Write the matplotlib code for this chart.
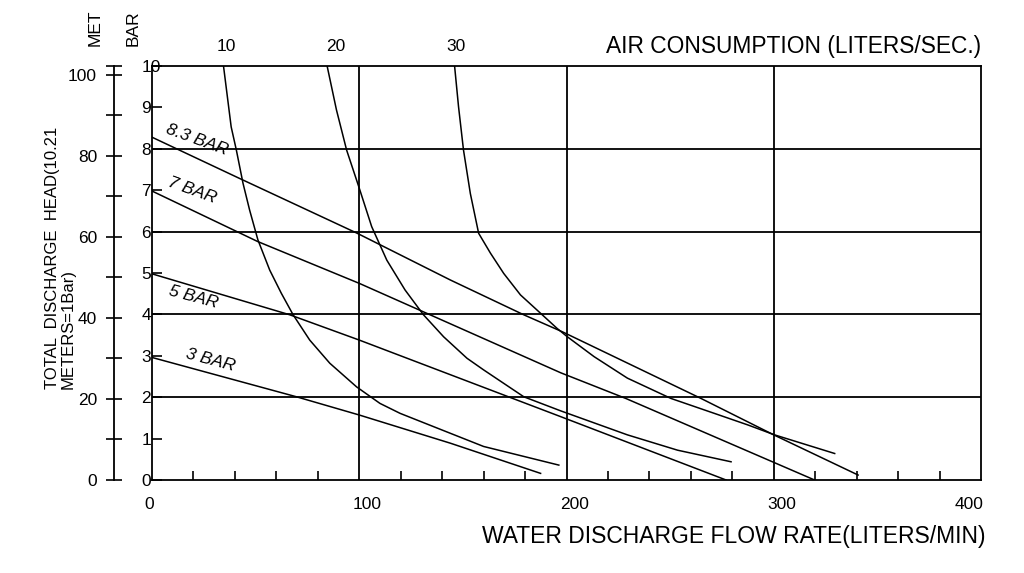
import matplotlib
matplotlib.use("Agg")
import matplotlib.pyplot as plt
import matplotlib.transforms as mtransforms

plt.rcParams['font.family'] = ['Liberation Sans', 'DejaVu Sans']

# pressure curves (flow L/min, head bar)
bar_labels = ["8.3 BAR", "7 BAR", "5 BAR", "3 BAR"]
q_83 = [0, 42, 99, 144, 179.4, 198, 264.9, 300, 340.7]
p_83 = [8.28, 7.29, 5.96, 4.83, 3.99, 3.58, 1.97, 1.09, 0.12]
q_7 = [0, 51, 100, 197.2, 228.6, 319.7]
p_7 = [6.98, 5.76, 4.75, 2.59, 1.97, 0.0]
q_5 = [0, 66.5, 100, 197.2, 277]
p_5 = [4.98, 3.99, 3.38, 1.53, 0.0]
q_3 = [0, 69.7, 100, 143.9, 187.5]
p_3 = [2.96, 2.01, 1.57, 0.89, 0.16]

# air consumption curves (liters/sec)
air_labels = ["10", "20", "30"]
q_a10 = [34.5, 38.2, 40.7, 43.9, 47.1, 51.1, 56.8, 62.4, 68.1, 76.1, 85.8, 98.7,
         110, 119.7, 135.8, 160, 196.3]
p_a10 = [10, 8.53, 7.97, 7.17, 6.52, 5.8, 5.07, 4.51, 3.99, 3.38, 2.82, 2.25,
         1.85, 1.61, 1.29, 0.81, 0.36]
q_a20 = [84.5, 89, 93.9, 100, 106, 113.3, 122.1, 131, 140.7, 152, 160, 179.4,
         197.2, 229.4, 253.6, 279.4]
p_a20 = [10, 8.94, 7.97, 7.05, 6.12, 5.31, 4.59, 3.99, 3.46, 2.94, 2.66, 2.01,
         1.67, 1.09, 0.72, 0.44]
q_a30 = [146, 147.9, 150.3, 153.6, 157.6, 163.3, 169.7, 177.8, 188.3, 195.5, 200.4,
         213.3, 229.4, 250.4, 271.3, 287.5, 300.4, 329.4]
p_a30 = [10, 9.02, 7.97, 6.92, 5.96, 5.48, 4.99, 4.47, 3.99, 3.66, 3.46,
         2.98, 2.46, 1.97, 1.61, 1.33, 1.09, 0.64]

x_ticks = [0, 100, 200, 300, 400]
bar_ticks = list(range(0, 11))
met_ticks = [0, 20, 40, 60, 80, 100]
m_per_bar = 10.21

W, H = 1024, 573
fig = plt.figure(figsize=(W / 100, H / 100), dpi=100)
left, right, top, bottom = 152, 981, 66, 480
ax = fig.add_axes([left / W, 1 - bottom / H, (right - left) / W, (bottom - top) / H])

ax.set_xlim(0, 400)
ax.set_ylim(0, 10)
for s in ax.spines.values():
    s.set_linewidth(1.3)

# grid
for x in [100, 200, 300]:
    ax.axvline(x, color='black', lw=1.3, zorder=1)
for y in [2, 4, 6, 8]:
    ax.axhline(y, color='black', lw=1.3, zorder=1)

lw = 1.1
for q, p in [(q_83, p_83), (q_7, p_7), (q_5, p_5), (q_3, p_3)]:
    ax.plot(q, p, color='black', lw=lw, zorder=2)
for q, p in [(q_a10, p_a10), (q_a20, p_a20), (q_a30, p_a30)]:
    ax.plot(q, p, color='black', lw=lw, zorder=2, solid_joinstyle='round')

fs = 12.5
# curve labels
lab_pos = [(21.5, 8.21, -20), (19.4, 7.0, -20), (19.8, 4.42, -15), (28, 2.9, -15)]
for txt, (qx, py, rot) in zip(bar_labels, lab_pos):
    ax.text(qx, py, txt, rotation=rot, ha='center', va='center', fontsize=fs,
            style='italic', rotation_mode='anchor')
for txt, q, dq in zip(air_labels, [q_a10, q_a20, q_a30], [1.5, 4, 0.5]):
    ax.text(q[0] + dq, 10.3, txt, ha='center', va='bottom', fontsize=fs, clip_on=False)

# x axis
ax.set_xticks(x_ticks)
ax.set_xticklabels([str(v) for v in x_ticks], fontsize=fs)
ax.tick_params(axis='x', which='major', length=0, pad=12)
ax.set_xticks([v for v in range(20, 400, 20) if v % 100], minor=True)
ax.tick_params(axis='x', which='minor', direction='in', length=6.5, width=1.2)
shifts = [-3, 8, 8, 8, -12]
for lbl, dx in zip(ax.get_xticklabels(), shifts):
    lbl.set_transform(lbl.get_transform() + mtransforms.ScaledTranslation(dx / 100, 0, fig.dpi_scale_trans))

# bar axis
ax.set_yticks(bar_ticks)
ax.set_yticklabels([str(v) for v in bar_ticks], fontsize=fs, ha='left')
ax.tick_params(axis='y', which='major', direction='in', length=7.2, width=1.2, pad=7.6)

# meters axis
axm = fig.add_axes([114 / W, 1 - bottom / H, 0.0001, (bottom - top) / H])
axm.set_ylim(0, 10 * m_per_bar)
for k in ['right', 'top', 'bottom']:
    axm.spines[k].set_visible(False)
axm.spines['left'].set_linewidth(1.3)
axm.set_xticks([])
axm.patch.set_visible(False)
axm.set_yticks(met_ticks)
axm.set_yticklabels([str(v) for v in met_ticks], fontsize=fs)
axm.set_yticks([10, 30, 50, 70, 90, 10 * m_per_bar], minor=True)
axm.tick_params(axis='y', which='both', direction='inout', length=12.2, width=1.2, pad=6.1)

# texts
fig.text(95 / W, 1 - 28 / H, "MET", rotation=90, ha='center', va='center', fontsize=fs)
fig.text(133 / W, 1 - 28 / H, "BAR", rotation=90, ha='center', va='center', fontsize=fs)
fig.text(60 / W, 1 - 389 / H, "TOTAL  DISCHARGE  HEAD(10.21\nMETERS=1Bar)", rotation=90,
         ha='center', va='bottom', multialignment='left', fontsize=12, linespacing=1.05)
fig.text(981 / W, 1 - 47 / H, "AIR CONSUMPTION (LITERS/SEC.)", ha='right', va='center', fontsize=16.4)
fig.text(985 / W, 1 - 537 / H, "WATER DISCHARGE FLOW RATE(LITERS/MIN)", ha='right', va='center',
         fontsize=16.5)

fig.savefig("out.png", dpi=100)
